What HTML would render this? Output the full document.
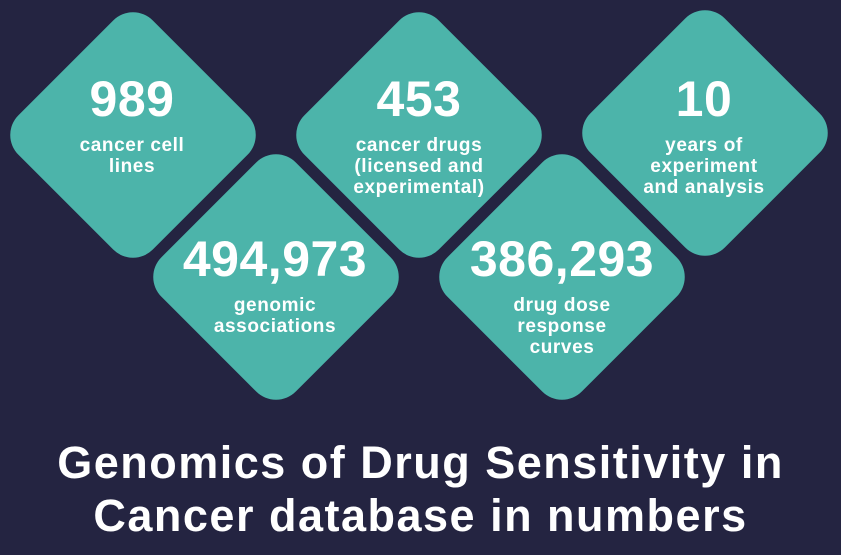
<!DOCTYPE html>
<html><head><style>
body{margin:0;width:841px;height:555px;background:#242441;overflow:hidden;position:relative;font-family:"Liberation Sans",sans-serif;color:#fff}
.d{position:absolute;width:190px;height:190px;background:#4cb4aa;border-radius:28px;transform:translate(-50%,-50%) rotate(45deg)}
.t{position:absolute;transform:translateX(-50%);text-align:center;font-weight:bold;white-space:nowrap}
.n{font-size:50px;line-height:52px;letter-spacing:0.5px}
.l{font-size:19px;line-height:21px;margin-top:10px;letter-spacing:0.6px}
.title{position:absolute;left:0;width:841px;top:436px;text-align:center;font-weight:bold;font-size:45px;line-height:53px;letter-spacing:1.5px}
</style></head><body>
<div class="d" style="left:133px;top:135px"></div>
<div class="d" style="left:419px;top:135px"></div>
<div class="d" style="left:705px;top:133px"></div>
<div class="d" style="left:276px;top:277px"></div>
<div class="d" style="left:562px;top:277px"></div>
<div class="t" style="left:132px;top:73px"><div class="n">989</div><div class="l">cancer cell<br>lines</div></div>
<div class="t" style="left:419px;top:73px"><div class="n">453</div><div class="l">cancer drugs<br>(licensed and<br>experimental)</div></div>
<div class="t" style="left:704px;top:73px"><div class="n">10</div><div class="l">years of<br>experiment<br>and analysis</div></div>
<div class="t" style="left:275px;top:233px"><div class="n">494,973</div><div class="l">genomic<br>associations</div></div>
<div class="t" style="left:562px;top:233px"><div class="n">386,293</div><div class="l">drug dose<br>response<br>curves</div></div>
<div class="title">Genomics of Drug Sensitivity in<br>Cancer database in numbers</div>
</body></html>
